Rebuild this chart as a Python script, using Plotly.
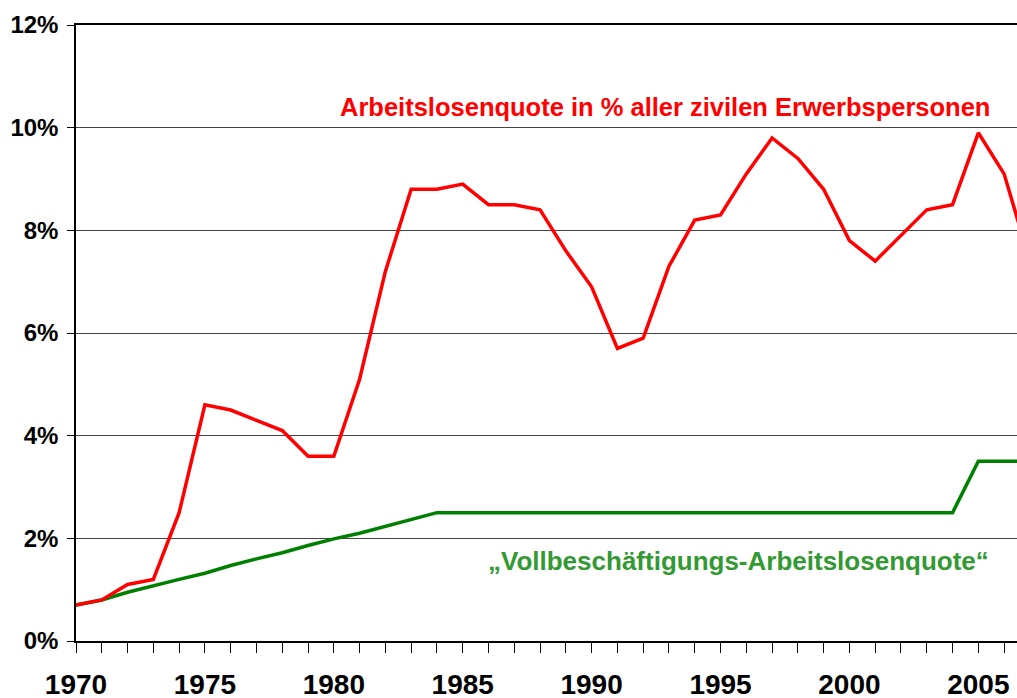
import plotly.graph_objects as go

years = list(range(1970, 2008))
unemployment = [0.7, 0.8, 1.1, 1.2, 2.5, 4.6, 4.5, 4.3, 4.1, 3.6,
                3.6, 5.1, 7.2, 8.8, 8.8, 8.9, 8.5, 8.5, 8.4, 7.6,
                6.9, 5.7, 5.9, 7.3, 8.2, 8.3, 9.1, 9.8, 9.4, 8.8,
                7.8, 7.4, 7.9, 8.4, 8.5, 9.9, 9.1, 7.4]
full_employment = [0.7, 0.8, 0.95, 1.08, 1.2, 1.32, 1.47, 1.6, 1.72, 1.86,
                   1.99, 2.1, 2.23, 2.37, 2.5, 2.5, 2.5, 2.5, 2.5, 2.5,
                   2.5, 2.5, 2.5, 2.5, 2.5, 2.5, 2.5, 2.5, 2.5, 2.5,
                   2.5, 2.5, 2.5, 2.5, 2.5, 3.5, 3.5, 3.5]
x_tick_years = [1970, 1975, 1980, 1985, 1990, 1995, 2000, 2005]
y_ticks = [0, 2, 4, 6, 8, 10, 12]

label_red = "Arbeitslosenquote in % aller zivilen Erwerbspersonen"
label_green = "„Vollbeschäftigungs-Arbeitslosenquote“"

fig = go.Figure()
fig.add_trace(go.Scatter(x=years, y=full_employment, mode="lines",
                         line=dict(color="#008000", width=3.5), showlegend=False))
fig.add_trace(go.Scatter(x=years, y=unemployment, mode="lines",
                         line=dict(color="#ff0000", width=3.5), showlegend=False))

font = "Liberation Sans, Arial, sans-serif"
fig.add_annotation(x=1992.85, y=10.4, text="<b>" + label_red + "</b>", showarrow=False,
                   font=dict(family=font, size=25.5, color="#ff0000"))
fig.add_annotation(x=1995.7, y=1.55, text="<b>" + label_green + "</b>", showarrow=False,
                   font=dict(family=font, size=26, color="#339933"))

fig.update_layout(
    width=1017, height=698,
    margin=dict(l=76, r=0, t=25, b=57, autoexpand=False),
    paper_bgcolor="white", plot_bgcolor="white",
    font=dict(family=font, color="black"),
    xaxis=dict(range=[1970, 2006.5], tickvals=x_tick_years,
               ticktext=[f"<b>{y}</b>" for y in x_tick_years],
               ticks="outside", ticklen=10, tickcolor="black", tickwidth=1,
               minor=dict(dtick=1, tick0=1970, ticks="outside", ticklen=10,
                          tickcolor="black", tickwidth=1, showgrid=False),
               showgrid=False, showline=True, linecolor="black", linewidth=1.5,
               mirror=True,
               tickfont=dict(size=28, family=font), ticklabelstandoff=8,
               zeroline=False, automargin=False),
    yaxis=dict(range=[0, 12], tickvals=y_ticks,
               ticktext=[f"<b>{v}%</b>" for v in y_ticks],
               ticks="outside", ticklen=7, tickcolor="black",
               showgrid=True, gridcolor="#444444", gridwidth=1.2,
               showline=True, linecolor="black", linewidth=1.5,
               tickfont=dict(size=24, family=font), ticklabelstandoff=4,
               zeroline=False, automargin=False),
)

fig.write_html("out.html", config={"displayModeBar": False},
               post_script="document.body.style.margin='0';document.body.style.overflow='hidden';")
